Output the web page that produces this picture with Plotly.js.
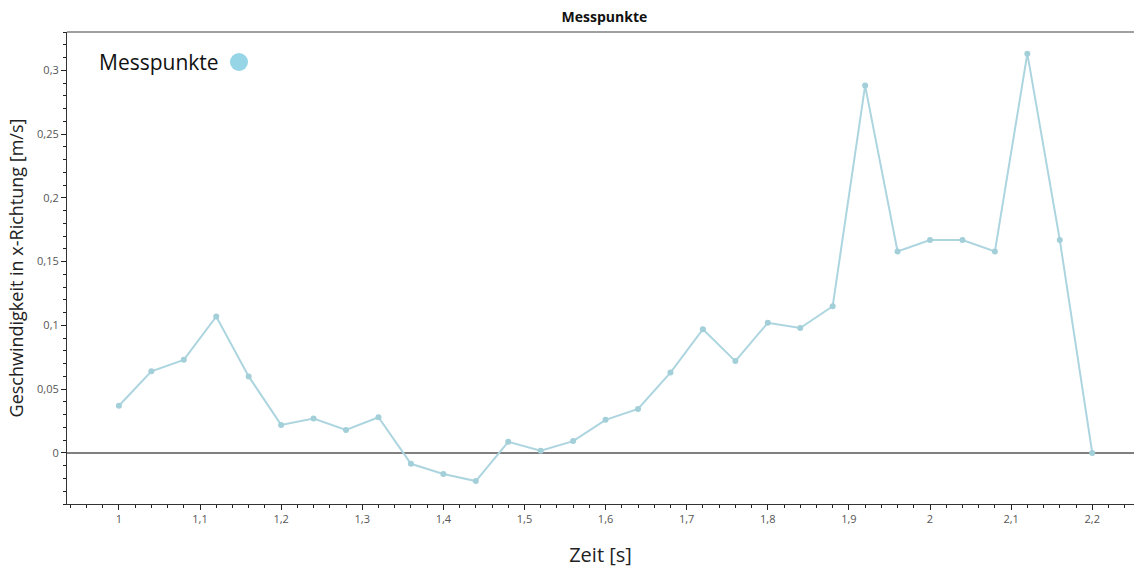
<!DOCTYPE html>
<html>
<head>
<meta charset="utf-8">
<script src="https://cdn.plot.ly/plotly-3.0.1.min.js"></script>
<style>html,body{margin:0;padding:0;background:#fff;}#chart{width:1134px;height:569px;}</style>
</head>
<body>
<div id="chart"></div>
<script>
// Data
var zeit = [1.00, 1.04, 1.08, 1.12, 1.16, 1.20, 1.24, 1.28, 1.32, 1.36, 1.40, 1.44, 1.48, 1.52, 1.56, 1.60,
            1.64, 1.68, 1.72, 1.76, 1.80, 1.84, 1.88, 1.92, 1.96, 2.00, 2.04, 2.08, 2.12, 2.16, 2.20];
var geschwindigkeit = [0.037, 0.064, 0.073, 0.107, 0.060, 0.022, 0.027, 0.018, 0.028, -0.0085, -0.0165, -0.022,
            0.0087, 0.0018, 0.0093, 0.026, 0.0345, 0.063, 0.097, 0.072, 0.102, 0.098, 0.115, 0.288,
            0.158, 0.167, 0.167, 0.158, 0.313, 0.167, 0.0];
var seriesName = "Messpunkte";
var chartTitle = "Messpunkte";
var xTitle = "Zeit [s]";
var yTitle = "Geschwindigkeit in x-Richtung [m/s]";

var font = "'Open Sans', 'Noto Sans', 'DejaVu Sans', sans-serif";

var trace = {
  x: zeit,
  y: geschwindigkeit,
  name: seriesName,
  type: "scatter",
  mode: "lines+markers",
  line: {color: "#acd5df", width: 2},
  marker: {color: "#a3cfd9", size: 6},
  showlegend: false,
  hoverinfo: "x+y"
};

var layout = {
  width: 1134,
  height: 569,
  margin: {l: 67, r: 0, t: 32, b: 65},
  paper_bgcolor: "#ffffff",
  plot_bgcolor: "#ffffff",
  separators: ",.",
  font: {family: font, color: "#444"},
  title: {
    text: "<b>" + chartTitle + "</b>",
    font: {size: 14, color: "#111", family: font},
    x: 0.533, xanchor: "center",
    y: 0.97, yanchor: "middle", yref: "container"
  },
  xaxis: {
    range: [0.936, 2.2515],
    tick0: 1, dtick: 0.1,
    ticks: "outside", ticklen: 5, tickwidth: 1, tickcolor: "#222",
    minor: {ticks: "outside", dtick: 0.02, tick0: 1, ticklen: 3, tickcolor: "#222", tickwidth: 1},
    showgrid: false, zeroline: false,
    showline: true, linecolor: "#333", linewidth: 1,
    tickfont: {size: 11, color: "#555", family: font},
    title: {text: xTitle, font: {size: 20, color: "#222", family: font}, standoff: 22}
  },
  yaxis: {
    range: [-0.04, 0.33],
    tick0: 0, dtick: 0.05,
    ticks: "outside", ticklen: 5, tickwidth: 1, tickcolor: "#222",
    minor: {ticks: "outside", dtick: 0.01, tick0: 0, ticklen: 3, tickcolor: "#222", tickwidth: 1},
    showgrid: false,
    zeroline: true, zerolinecolor: "#808080", zerolinewidth: 2,
    showline: true, linecolor: "#333", linewidth: 1,
    tickfont: {size: 11, color: "#555", family: font},
    title: {text: yTitle, font: {size: 18, color: "#222", family: font}, standoff: 8}
  },
  shapes: [
    {type: "line", xref: "paper", yref: "paper", x0: 0, x1: 1, y0: 1, y1: 1,
     line: {color: "#808080", width: 1.5}},
    {type: "circle", xref: "paper", yref: "paper",
     x0: (230 - 67) / 1067, x1: (248 - 67) / 1067,
     y0: (504 - 71) / 472, y1: (504 - 53) / 472,
     fillcolor: "#95d5e6", line: {width: 0}}
  ],
  annotations: [
    {text: seriesName, xref: "paper", yref: "paper",
     x: (97 - 67) / 1067, xanchor: "left",
     y: (504 - 62) / 472, yanchor: "middle",
     showarrow: false, font: {size: 21, color: "#111", family: font}}
  ]
};

Plotly.newPlot("chart", [trace], layout, {displayModeBar: false, staticPlot: true});
</script>
</body>
</html>
